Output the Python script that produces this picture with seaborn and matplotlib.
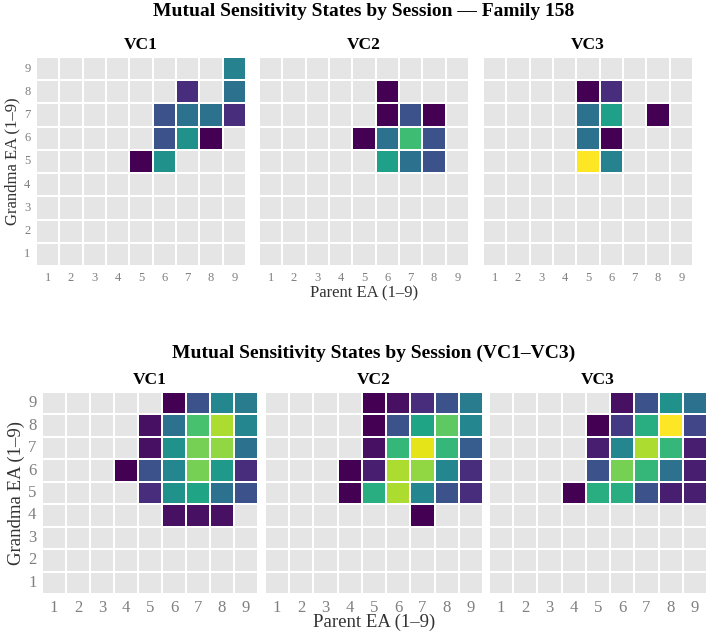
import numpy as np
import pandas as pd
import seaborn as sns
import matplotlib.pyplot as plt
from matplotlib.colors import ListedColormap

# Eixos: Parent EA (colunas 1..9), Grandma EA (linhas 9..1, topo = 9)
niveis = [1, 2, 3, 4, 5, 6, 7, 8, 9]
sessoes = ["VC1", "VC2", "VC3"]

# Família 158 - contagens por célula (0 = vazio)
fam_vc1 = [
    [0, 0, 0, 0, 0, 0, 0, 0, 8],
    [0, 0, 0, 0, 0, 0, 3, 0, 7],
    [0, 0, 0, 0, 0, 5, 7, 7, 3],
    [0, 0, 0, 0, 0, 5, 9, 1, 0],
    [0, 0, 0, 0, 1, 9, 0, 0, 0],
    [0, 0, 0, 0, 0, 0, 0, 0, 0],
    [0, 0, 0, 0, 0, 0, 0, 0, 0],
    [0, 0, 0, 0, 0, 0, 0, 0, 0],
    [0, 0, 0, 0, 0, 0, 0, 0, 0],
]
fam_vc2 = [
    [0, 0, 0, 0, 0, 0, 0, 0, 0],
    [0, 0, 0, 0, 0, 1, 0, 0, 0],
    [0, 0, 0, 0, 0, 1, 5, 1, 0],
    [0, 0, 0, 0, 1, 7, 12, 5, 0],
    [0, 0, 0, 0, 0, 10, 7, 5, 0],
    [0, 0, 0, 0, 0, 0, 0, 0, 0],
    [0, 0, 0, 0, 0, 0, 0, 0, 0],
    [0, 0, 0, 0, 0, 0, 0, 0, 0],
    [0, 0, 0, 0, 0, 0, 0, 0, 0],
]
fam_vc3 = [
    [0, 0, 0, 0, 0, 0, 0, 0, 0],
    [0, 0, 0, 0, 1, 3, 0, 0, 0],
    [0, 0, 0, 0, 7, 10, 0, 1, 0],
    [0, 0, 0, 0, 7, 1, 0, 0, 0],
    [0, 0, 0, 0, 17, 8, 0, 0, 0],
    [0, 0, 0, 0, 0, 0, 0, 0, 0],
    [0, 0, 0, 0, 0, 0, 0, 0, 0],
    [0, 0, 0, 0, 0, 0, 0, 0, 0],
    [0, 0, 0, 0, 0, 0, 0, 0, 0],
]

# Todas as famílias
all_vc1 = [
    [0, 0, 0, 0, 0, 1, 7, 12, 11],
    [0, 0, 0, 0, 2, 10, 18, 22, 12],
    [0, 0, 0, 0, 2, 13, 20, 21, 10],
    [0, 0, 0, 1, 7, 12, 20, 14, 4],
    [0, 0, 0, 0, 4, 13, 15, 10, 7],
    [0, 0, 0, 0, 0, 2, 2, 2, 0],
    [0, 0, 0, 0, 0, 0, 0, 0, 0],
    [0, 0, 0, 0, 0, 0, 0, 0, 0],
    [0, 0, 0, 0, 0, 0, 0, 0, 0],
]
all_vc2 = [
    [0, 0, 0, 0, 1, 2, 4, 7, 11],
    [0, 0, 0, 0, 1, 7, 15, 19, 12],
    [0, 0, 0, 0, 2, 17, 24, 17, 8],
    [0, 0, 0, 1, 3, 22, 21, 12, 4],
    [0, 0, 0, 1, 16, 22, 12, 7, 4],
    [0, 0, 0, 0, 0, 0, 1, 0, 0],
    [0, 0, 0, 0, 0, 0, 0, 0, 0],
    [0, 0, 0, 0, 0, 0, 0, 0, 0],
    [0, 0, 0, 0, 0, 0, 0, 0, 0],
]
all_vc3 = [
    [0, 0, 0, 0, 0, 2, 7, 13, 10],
    [0, 0, 0, 0, 1, 5, 16, 25, 6],
    [0, 0, 0, 0, 3, 12, 22, 17, 3],
    [0, 0, 0, 0, 7, 20, 17, 10, 3],
    [0, 0, 0, 1, 16, 16, 7, 3, 3],
    [0, 0, 0, 0, 0, 0, 0, 0, 0],
    [0, 0, 0, 0, 0, 0, 0, 0, 0],
    [0, 0, 0, 0, 0, 0, 0, 0, 0],
    [0, 0, 0, 0, 0, 0, 0, 0, 0],
]

plt.rcParams["font.family"] = ["Liberation Serif", "DejaVu Serif"]

W, H = 709, 635
fig = plt.figure(figsize=(W / 100, H / 100), dpi=100)


def eixo(x, y, w, h):
    # posição em pixels (topo-esquerda) -> coordenadas da figura
    return fig.add_axes([x / W, 1 - (y + h) / H, w / W, h / H])


def painel(ax, matriz, vmax, titulo, mostrar_y, fs_tick, fs_tit):
    df = pd.DataFrame(matriz, index=niveis[::-1], columns=niveis).astype(float)
    fundo = pd.DataFrame(1, index=df.index, columns=df.columns)
    sns.heatmap(fundo, ax=ax, cmap=ListedColormap(["#e5e5e5"]), cbar=False,
                linewidths=1.4, linecolor="white")
    sns.heatmap(df, ax=ax, mask=(df == 0), cmap="viridis", vmin=1, vmax=vmax,
                cbar=False, linewidths=1.4, linecolor="white")
    ax.set_title(titulo, fontsize=fs_tit, fontweight="bold", pad=6)
    ax.set_xlabel("")
    ax.set_ylabel("")
    ax.tick_params(length=0, labelsize=fs_tick, labelcolor="#7f7f7f", pad=4)
    ax.tick_params(axis="y", rotation=0)
    if not mostrar_y:
        ax.set_yticklabels([])


# --- bloco de cima: Família 158 ---
top_axes = [eixo(36, 57, 210, 209), eixo(259, 57, 210, 209), eixo(483, 57, 210, 209)]
for i, (ax, m) in enumerate(zip(top_axes, [fam_vc1, fam_vc2, fam_vc3])):
    painel(ax, m, 17, sessoes[i], i == 0, 9, 12.5)
top_axes[0].set_ylabel("Grandma EA (1–9)", fontsize=12, color="#333333", labelpad=3)
top_axes[1].set_xlabel("Parent EA (1–9)", fontsize=12, color="#333333", labelpad=1)
fig.text(364 / W, 1 - 11 / H, "Mutual Sensitivity States by Session — Family 158",
         ha="center", va="center", fontsize=14, fontweight="bold")

# --- bloco de baixo: VC1–VC3 ---
bot_axes = [eixo(42, 392, 216, 202), eixo(265, 392, 218, 202), eixo(489, 392, 218, 202)]
for i, (ax, m) in enumerate(zip(bot_axes, [all_vc1, all_vc2, all_vc3])):
    painel(ax, m, 25, sessoes[i], i == 0, 12, 12.5)
bot_axes[0].set_ylabel("Grandma EA (1–9)", fontsize=13.5, color="#333333", labelpad=2)
bot_axes[1].set_xlabel("Parent EA (1–9)", fontsize=13.5, color="#333333", labelpad=-1)
fig.text(374 / W, 1 - 353 / H, "Mutual Sensitivity States by Session (VC1–VC3)",
         ha="center", va="center", fontsize=14, fontweight="bold")

fig.savefig("out.png", dpi=100)
